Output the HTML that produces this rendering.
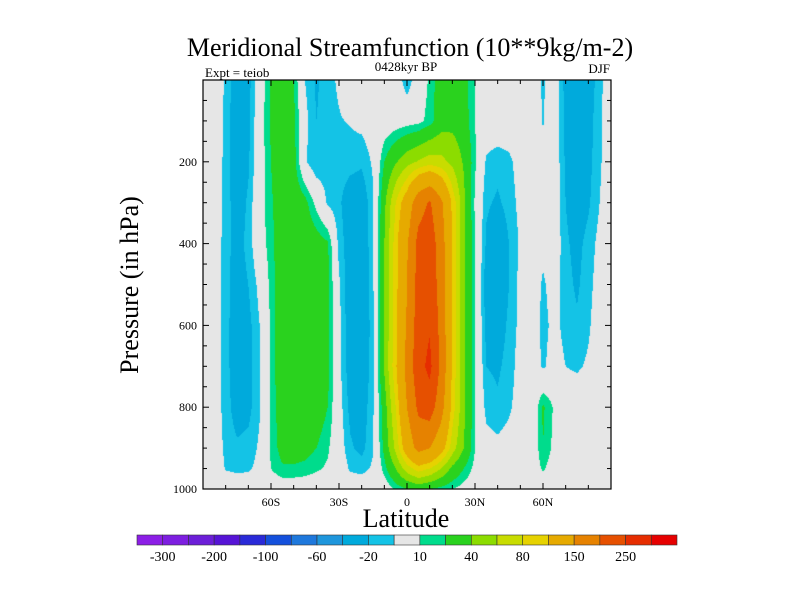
<!DOCTYPE html>
<html><head><meta charset="utf-8">
<style>
body{margin:0;background:#fff;}
#wrap{position:relative;width:800px;height:600px;overflow:hidden;background:#fff;font-family:"Liberation Serif",serif;}
canvas{position:absolute;left:203px;top:80px;}
svg{position:absolute;left:0;top:0;}
</style></head>
<body>
<div id="wrap">
<canvas id="cv" width="408" height="409"></canvas>
<svg id="sv" width="800" height="600">
<text x="410" y="56" font-size="26" text-anchor="middle" font-family="Liberation Serif">Meridional Streamfunction (10**9kg/m-2)</text>
<text x="205" y="77" font-size="13" font-family="Liberation Serif">Expt = teiob</text>
<text x="406" y="71" font-size="13" text-anchor="middle" font-family="Liberation Serif">0428kyr BP</text>
<text x="610" y="73" font-size="13" text-anchor="end" font-family="Liberation Serif">DJF</text>
<text x="406" y="527" font-size="26" text-anchor="middle" font-family="Liberation Serif">Latitude</text>
<text transform="translate(138,285) rotate(-90)" font-size="26" text-anchor="middle" font-family="Liberation Serif">Pressure (in hPa)</text>
<g id="axes"></g>
<g id="cbar"></g>
</svg>
</div>
<script>
const lats=[-90,-85,-80,-75,-70,-65,-60,-55,-50,-45,-40,-35,-30,-25,-20,-15,-10,-5,0,5,10,15,20,25,30,35,40,45,50,55,60,65,70,75,80,85,90];
const pressures=[0,100,200,300,400,500,600,700,800,900,950,1000];
const psi_p0=[0,0,-12,-30,-25,0,22,35,20,-10,-22,-14,-8,0,0,0,0,0,-18,0,12,30,32,26,10,0,0,0,0,0,-12,0,-25,-30,-28,-14,0];
const psi_p100=[0,0,-13,-30,-24,2,22,34,24,-6,-20,-14,-11,-9,-6,-2,0,2,4,6,14,30,34,28,10,0,0,0,0,0,-11,0,-24,-30,-26,-12,0];
const psi_p200=[0,0,-14,-30,-22,2,20,32,26,-8,-20,-16,-15,-16,-18,-8,20,38,52,62,70,66,55,38,12,-12,-16,-13,-4,0,-6,0,-22,-30,-24,-12,0];
const psi_p300=[0,0,-14,-28,-18,4,18,30,32,25,6,-12,-18,-28,-30,-12,35,80,120,180,205,160,95,45,8,-18,-22,-16,-6,0,-4,0,-20,-28,-22,-10,0];
const psi_p400=[0,-2,-15,-26,-16,2,16,30,34,32,28,22,-14,-28,-32,-12,40,90,145,215,228,175,95,45,10,-22,-32,-20,-8,0,-6,0,-18,-24,-16,-6,0];
const psi_p500=[0,-2,-16,-27,-20,-6,14,32,36,36,34,24,-8,-30,-34,-12,40,90,150,218,232,180,95,45,10,-28,-30,-20,-6,0,-12,-4,-16,-22,-14,-4,0];
const psi_p600=[0,-2,-16,-28,-24,-10,12,34,38,38,35,24,-6,-30,-34,-14,40,92,155,225,245,185,95,45,10,-24,-26,-18,-6,0,-14,-6,-14,-18,-12,-2,0];
const psi_p700=[0,-2,-16,-28,-25,-11,12,34,38,38,36,25,-6,-28,-32,-14,42,95,165,232,262,190,95,45,10,-20,-22,-16,-4,0,-12,-4,-10,-12,-8,0,0];
const psi_p800=[0,-2,-15,-26,-24,-11,12,30,34,34,30,20,-4,-24,-28,-12,30,80,150,210,225,170,90,45,10,-14,-18,-12,-4,-5,22,8,0,0,0,0,0];
const psi_p900=[0,-1,-13,-18,-16,-8,12,26,28,26,20,12,-2,-18,-24,-11,25,65,120,165,150,115,70,40,10,-4,-6,-4,-2,-4,20,6,0,0,0,0,0];
const psi_p950=[0,0,-11,-13,-12,-6,10,18,18,16,12,8,0,-12,-14,-8,15,40,70,90,80,60,35,20,6,0,0,0,0,0,12,2,0,0,0,0,0];
const psi_p1000=[0,0,0,0,0,0,0,0,0,0,0,0,0,0,0,0,0,12,20,25,20,15,10,5,0,0,0,0,0,0,0,0,0,0,0,0,0];
const psiRows=[psi_p0,psi_p100,psi_p200,psi_p300,psi_p400,psi_p500,psi_p600,psi_p700,psi_p800,psi_p900,psi_p950,psi_p1000];
const levels=[-300,-250,-200,-150,-100,-80,-60,-40,-20,-10,10,20,40,60,80,100,150,200,250,300];
const levelColors=["#8c1ee6","#7d1ee0","#6c1ed8","#5614d6","#2a2ad8","#1450dc","#1e78dc","#1e96dc","#00aadc","#14c3e6","#e6e6e6","#00dc8c","#2ad21e","#8cdc00","#c8dc00","#e6d200","#e6aa00","#e68200","#e65000","#e62d00","#e60000"];
const cbarLabels=["-300","-200","-100","-60","-20","10","40","80","150","250"];
const xTickVals=[-60,-30,0,30,60];
const xTickText=["60S","30S","0","30N","60N"];
const yTickVals=[200,400,600,800,1000];

const PX0=203,PX1=611,PY0=80,PY1=489;
function xOf(lat){return PX0+(lat+90)/180*(PX1-PX0);}
function yOf(p){return PY0+p/1000*(PY1-PY0);}
function hexRgb(h){return [parseInt(h.substr(1,2),16),parseInt(h.substr(3,2),16),parseInt(h.substr(5,2),16)];}
const rgbs=levelColors.map(hexRgb);
function colorIdx(v){let i=0;while(i<levels.length&&v>=levels[i])i++;return i;}
function interp(lat,p){
  let i=Math.min(lats.length-2,Math.max(0,Math.floor((lat+90)/5)));
  let tx=(lat-lats[i])/5;tx=Math.max(0,Math.min(1,tx));
  let j=0;while(j<pressures.length-2&&p>pressures[j+1])j++;
  let ty=(p-pressures[j])/(pressures[j+1]-pressures[j]);ty=Math.max(0,Math.min(1,ty));
  const a=psiRows[j][i],b=psiRows[j][i+1],c=psiRows[j+1][i],d=psiRows[j+1][i+1];
  return (a*(1-tx)+b*tx)*(1-ty)+(c*(1-tx)+d*tx)*ty;
}
const cv=document.getElementById('cv');const ctx=cv.getContext('2d');
const W=cv.width,H=cv.height;const img=ctx.createImageData(W,H);
for(let y=0;y<H;y++){for(let x=0;x<W;x++){
  const lat=(x+0.5)/W*180-90,p=(y+0.5)/H*1000;
  const c=rgbs[colorIdx(interp(lat,p))];const k=(y*W+x)*4;
  img.data[k]=c[0];img.data[k+1]=c[1];img.data[k+2]=c[2];img.data[k+3]=255;}}
ctx.putImageData(img,0,0);

const NS='http://www.w3.org/2000/svg';
function mk(tag,attrs,parent){const e=document.createElementNS(NS,tag);for(const k in attrs)e.setAttribute(k,attrs[k]);parent.appendChild(e);return e;}
const ax=document.getElementById('axes');
const frame=mk('rect',{x:PX0,y:PY0,width:PX1-PX0,height:PY1-PY0,fill:'none',stroke:'#000','stroke-width':1.2},ax);


for(let lat=-80;lat<=80;lat+=10){
  const x=xOf(lat),len=(lat%30===0)?6:4;
  const t1=mk('line',{x1:x,x2:x,y1:PY1,y2:PY1-len,stroke:'#000'},ax);
  
  
  const t2=mk('line',{x1:x,x2:x,y1:PY0,y2:PY0+len,stroke:'#000'},ax);
  
  
}
xTickVals.forEach((v,i)=>{
  const t=mk('text',{x:xOf(v),y:506,'font-size':12,'text-anchor':'middle','font-family':'Liberation Serif'},ax);
  t.textContent=xTickText[i];
  
  
});
for(let p=50;p<1000;p+=50){
  const y=yOf(p),len=(p%200===0)?6:4;
  const t1=mk('line',{x1:PX0,x2:PX0+len,y1:y,y2:y,stroke:'#000'},ax);
  
  
  const t2=mk('line',{x1:PX1,x2:PX1-len,y1:y,y2:y,stroke:'#000'},ax);
  
  
}
yTickVals.forEach(v=>{
  const t=mk('text',{x:197,y:yOf(v)+4,'font-size':12,'text-anchor':'end','font-family':'Liberation Serif'},ax);
  t.textContent=String(v);
  
  
});
const cb=document.getElementById('cbar');
const CB0=137,CB1=677,CBY=535,CBH=10,bw=(CB1-CB0)/levelColors.length;
levelColors.forEach((c,i)=>{
  const r=mk('rect',{x:CB0+i*bw,y:CBY,width:bw,height:CBH,fill:c,stroke:'#333','stroke-width':0.6},cb);
  
  
});
cbarLabels.forEach((s,i)=>{
  const t=mk('text',{x:CB0+(2*i+1)*bw,y:561,'font-size':14,'text-anchor':'middle','font-family':'Liberation Serif'},cb);
  t.textContent=s;
  
  
});
</script>
</body></html>
